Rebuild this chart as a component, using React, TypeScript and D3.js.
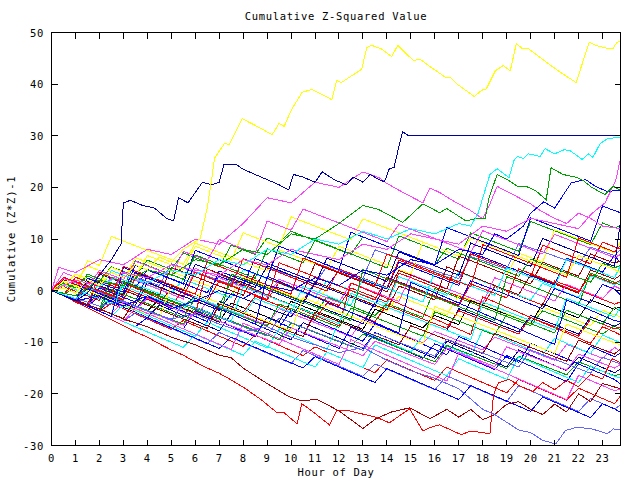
import React from "react";
import * as d3 from "d3";

const TITLE = "Cumulative Z-Squared Value";
const X_LABEL = "Hour of Day";
const Y_LABEL = "Cumulative (Z*Z)-1";
const X_TICKS = [0,1,2,3,4,5,6,7,8,9,10,11,12,13,14,15,16,17,18,19,20,21,22,23];
const Y_TICKS = [-30,-20,-10,0,10,20,30,40,50];
const X_DOMAIN = [0, 23.75];
const Y_DOMAIN = [-30, 50];

const GRID_HOURS = [0,0.5,1,1.5,2,2.5,3,3.5,4,4.5,5,5.5,6,6.5,7,7.5,8,8.5,9,9.5,10,10.5,11,11.5,12,12.5,13,13.5,14,14.5,15,15.5,16,16.5,17,17.5,18,18.5,19,19.5,20,20.5,21,21.5,22,22.5,23,23.5,23.75];

// background walks, sampled every half hour
const bg01 = [0,-0.8,-1.7,0.9,0.1,-0.8,-1.7,2.4,1.5,0.6,-0.3,-1.2,3.6,2.7,1.8,0.9,0,-0.9,-1.8,1.6,0.7,-0.2,-1.1,-2,-2.9,0.5,-0.4,-1.3,-2.2,3.4,2.5,1.6,0.7,-0.2,-1.1,-2,-2.9,0.8,-0.1,-1,-1.9,-2.8,1.9,1,0.1,-0.8,-1.7,-2.6,-2.2];
const bg02 = [0,-0.9,0.8,-0.1,-1,-1.9,1.5,0.6,-0.3,-1.2,-2.1,-3,-1.2,-2.1,-3,1.8,0.9,0,-0.9,-1.8,-2.7,-3.6,-4.5,-1.2,-2.1,-3,-3.9,-4.8,-2.5,-3.4,-4.3,-5.2,0.4,-0.5,-1.4,-2.3,-3.2,-4.1,-5,-5.9,-6.8,-3.9,-4.8,-5.7,-6.6,-7.5,-8.4,-6.8,-7.7];
const bg03 = [0,1.8,0.9,0,3.2,2.3,1.4,0.5,4.1,3.2,2.3,1.4,0.5,-0.4,2.8,1.9,1,6.2,5.3,4.4,3.5,2.6,1.7,0.8,3.9,3,2.1,1.2,0.3,5.5,4.6,3.7,2.8,1.9,1,7.4,6.5,5.6,4.7,3.8,2.9,2,1.1,6.3,5.4,4.5,3.6,6.8,5.4];
const bg04 = [0,-1,-2,-2.8,-1,-1.9,-2.8,-3.7,-1.5,-2.4,-3.3,-4.2,-5.1,-2.2,-3.1,-4,-4.9,-5.8,-6.7,-3.5,-4.4,-5.3,-6.2,-7.1,-8,-8.9,-5.6,-6.5,-7.4,-8.3,-9.2,-10.1,-7.9,-8.8,-9.7,-10.6,-11.5,-9,-9.9,-10.8,-11.7,-12.6,-13.5,-10.4,-11.3,-12.2,-13.1,-11,-11.8];
const bg05 = [0,-0.9,1.6,0.7,-0.2,3.9,3,2.1,1.2,0.3,-0.6,2.2,1.3,0.4,-0.5,-1.4,4.1,3.2,2.3,1.4,0.5,-0.4,-1.3,1.9,1,0.1,-0.8,-1.7,-2.6,2.7,1.8,0.9,0,-0.9,3.6,2.7,1.8,0.9,0,-0.9,-1.8,1.4,0.5,-0.4,-1.3,2.9,2,1.1,1.8];
const bg06 = [0,2.5,1.6,4.8,3.9,3,2.1,6.4,5.5,4.6,3.7,2.8,1.9,1,0.1,-0.8,2.6,1.7,0.8,-0.1,-1,-1.9,-2.8,0.6,-0.3,-1.2,-2.1,-3,-3.9,-1.1,-2,-2.9,-3.8,-4.7,-0.9,-1.8,-2.7,-3.6,-4.5,-5.4,-6.3,-3.2,-4.1,-5,-5.9,-6.8,-3.8,-4.7,-5.1];
const bg07 = [0,-0.9,-1.8,-2.7,-0.4,-1.3,-2.2,-3.1,-4,-1.6,-2.5,-3.4,-4.3,-5.2,-6.1,-2.4,-3.3,-4.2,-5.1,-6,-2.1,-3,-3.9,-4.8,-5.7,-6.6,-7.5,-3.6,-4.5,-5.4,-6.3,-7.2,-4.8,-5.7,-6.6,-1.9,-2.8,-3.7,-4.6,-5.5,-6.4,-2.6,-3.5,-4.4,-5.3,-1.8,-2.7,-3.6,-3.1];
const bg08 = [0,-1,-2,-3,-1.2,-2.2,-3.2,-4.2,-5.2,-2.8,-3.8,-4.8,-5.8,-6.8,-7.8,-4.5,-5.5,-6.5,-7.5,-8.5,-9.5,-6.2,-7.2,-8.2,-9.2,-10.2,-11.2,-8.1,-9.1,-10.1,-11.1,-12.1,-13.1,-9.8,-10.8,-11.8,-12.8,-13.8,-14.8,-11.5,-12.5,-13.5,-14.5,-15.5,-12.9,-13.9,-14.9,-15.9,-15.2];
const bg09 = [0,-0.8,-1.6,1.5,0.7,-0.1,3.4,2.6,1.8,1,5.2,4.4,3.6,2.8,2,1.2,6.1,5.3,4.5,3.7,2.9,2.1,1.3,4.8,4,3.2,2.4,7.9,7.1,6.3,5.5,4.7,3.9,3.1,2.3,6.6,5.8,5,4.2,9.1,8.3,7.5,6.7,5.9,5.1,8.4,7.6,6.8,7.9];
const bg10 = [0,-0.9,-1.8,-2.7,1.9,1,0.1,-0.8,-1.7,-2.6,0.6,-0.3,-1.2,-2.1,-3,-3.9,2.4,1.5,0.6,-0.3,-1.2,-2.1,1.7,0.8,-0.1,-1,-1.9,-2.8,-3.7,0.9,0,-0.9,-1.8,4.6,3.7,2.8,1.9,1,0.1,-0.8,3.1,2.2,1.3,0.4,-0.5,4,3.1,2.2,3];
const bg11 = [0,-1,-2,-3,-4,-2.5,-3.5,-4.5,-5.5,-6.5,-7.5,-5.8,-6.8,-7.8,-8.8,-9.8,-10.8,-8.6,-9.6,-10.6,-11.6,-12.6,-10.9,-11.9,-12.9,-13.9,-14.9,-15.9,-13.4,-14.4,-15.4,-16.4,-17.4,-14.8,-15.8,-16.8,-17.8,-18.8,-19.8,-17.2,-18.2,-19.2,-20.2,-21.2,-18.9,-19.9,-20.9,-21.9,-20.4];
const bg12 = [0,1.4,0.5,3.2,2.3,1.4,0.5,5.8,4.9,4,3.1,2.2,6.9,6,5.1,4.2,3.3,2.4,8.1,7.2,6.3,5.4,9.8,8.9,8,7.1,6.2,5.3,4.4,10.6,9.7,8.8,7.9,7,6.1,11.2,10.3,9.4,8.5,7.6,13.4,12.5,11.6,10.7,9.8,8.9,13.1,12.2,12.5];
const bg13 = [0,-0.9,-1.9,-2.9,-3.9,-1.4,-2.4,-3.4,-4.4,-5.4,-6.4,-7.4,-3.9,-4.9,-5.9,-6.9,-7.9,-8.9,-5.2,-6.2,-7.2,-8.2,-9.2,-10.2,-11.2,-7.1,-8.1,-9.1,-10.1,-11.1,-12.1,-13.1,-10.3,-11.3,-12.3,-13.3,-14.3,-15.3,-12.6,-13.6,-14.6,-15.6,-16.6,-17.6,-14.2,-15.2,-16.2,-17.2,-18.1];
const bg14 = [0,3.5,2.6,1.7,0.8,-0.1,2.9,2,1.1,0.2,-0.7,-1.6,4.3,3.4,2.5,1.6,0.7,-0.2,-1.1,2.2,1.3,0.4,-0.5,-1.4,-2.3,1.5,0.6,-0.3,-1.2,-2.1,3.1,2.2,1.3,0.4,-0.5,-1.4,-2.3,2.5,1.6,0.7,-0.2,-1.1,-2,1.2,0.3,-0.6,-1.5,0.9,0.3];
const bg15 = [0,-1,-2,-3,-4,-5,-2.8,-3.8,-4.8,-5.8,-6.8,-7.8,-8.8,-6.1,-7.1,-8.1,-9.1,-10.1,-11.1,-7.4,-8.4,-9.4,-10.4,-11.4,-5.9,-6.9,-7.9,-8.9,-9.9,-10.9,-11.9,-8.7,-9.7,-10.7,-11.7,-12.7,-7.5,-8.5,-9.5,-10.5,-11.5,-12.5,-9.2,-10.2,-11.2,-12.2,-8.6,-9.6,-10.1];
const bg16 = [0,1.2,0.3,5.8,4.9,10.5,9.6,8.7,7.8,6.9,6,5.1,9.2,8.3,7.4,6.5,5.6,4.7,3.8,7.9,7,6.1,5.2,4.3,8.6,7.7,6.8,5.9,5,4.1,3.2,9.4,8.5,7.6,6.7,5.8,4.9,4,3.1,7.3,6.4,5.5,11.8,10.9,10,9.1,8.2,7.3,9.5];
const bg17 = [0,-0.9,1.8,0.9,0,-0.9,-1.8,2.4,1.5,0.6,-0.3,-1.2,3.5,2.6,1.7,0.8,6.2,5.3,4.4,3.5,2.6,1.7,0.8,-0.1,4.2,3.3,2.4,1.5,0.6,5.9,5,4.1,3.2,2.3,1.4,7.1,6.2,5.3,4.4,3.5,2.6,8.8,7.9,7,6.1,5.2,9.4,8.5,8.1];
const bg18 = [0,-0.9,-1.8,0.7,-0.2,-1.1,-2,-2.9,1.6,0.7,-0.2,-1.1,-2,-2.9,-3.8,-0.6,-1.5,-2.4,-3.3,-4.2,-5.1,-1.9,-2.8,-3.7,-4.6,-5.5,-6.4,-2.3,-3.2,-4.1,-5,-5.9,-6.8,-7.7,-3.5,-4.4,-5.3,-6.2,-7.1,-8,-4.8,-5.7,-6.6,-7.5,-8.4,-5.1,-6,-6.9,-6.3];
const bg19 = [0,-1,-2,-3,-4,-5,-6,-4.3,-5.3,-6.3,-7.3,-8.3,-9.3,-10.3,-8.1,-9.1,-10.1,-11.1,-12.1,-13.1,-14.1,-11.6,-12.6,-13.6,-14.6,-15.6,-16.6,-14.2,-15.2,-16.2,-17.2,-18.2,-19.2,-16.5,-17.5,-18.5,-19.5,-20.5,-21.5,-18.4,-19.4,-20.4,-21.4,-22.4,-23.4,-20.9,-21.9,-22.9,-22.2];
const bg20 = [0,2.1,1.2,0.3,-0.6,-1.5,1.8,0.9,0,-0.9,4.5,3.6,2.7,1.8,0.9,0,-0.9,3.3,2.4,1.5,0.6,-0.3,5.2,4.3,3.4,2.5,1.6,0.7,-0.2,3.9,3,2.1,1.2,0.3,6.7,5.8,4.9,4,3.1,2.2,1.3,5.5,4.6,3.7,2.8,7.1,6.2,5.3,5.8];
const bg21 = [0,0.8,-0.1,-1,-1.9,1.4,0.5,-0.4,-1.3,-2.2,-3.1,0.3,-0.6,-1.5,-2.4,-3.3,-4.2,-1.1,-2,-2.9,-3.8,-4.7,-5.6,-2.4,-3.3,-4.2,-5.1,-6,-2.8,-3.7,-4.6,-5.5,-6.4,-7.3,-3.9,-4.8,-5.7,-6.6,-7.5,-8.4,-5.2,-6.1,-7,-7.9,-8.8,-5.6,-6.5,-7.4,-7];
const bg22 = [0,-0.9,-1.8,-2.7,-3.6,-1.1,-2,-2.9,-3.8,-4.7,-5.6,-6.5,-3.2,-4.1,-5,-5.9,-6.8,-7.7,-8.6,-9.5,-6.3,-7.2,-8.1,-9,-9.9,-10.8,-8.4,-9.3,-10.2,-11.1,-12,-12.9,-13.8,-10.6,-11.5,-12.4,-13.3,-14.2,-15.1,-12.7,-13.6,-14.5,-15.4,-16.3,-13.8,-14.7,-15.6,-16.5,-16.1];
const bg23 = [0,-0.9,-1.8,-2.7,0.5,-0.4,-1.3,-2.2,2.9,2,1.1,0.2,-0.7,-1.6,3.8,2.9,2,1.1,0.2,-0.7,-1.6,-2.5,1.4,0.5,-0.4,-1.3,-2.2,-3.1,2.6,1.7,0.8,-0.1,-1,-1.9,-2.8,1.9,1,0.1,-0.8,-1.7,-2.6,-3.5,0.4,-0.5,-1.4,-2.3,1.2,0.3,-0.8];
const bg24 = [0,-1,-2,0.4,-0.6,-1.6,-2.6,-3.6,-1,-2,-3,-4,-5,-6,-2.1,-3.1,-4.1,-5.1,-6.1,-7.1,-3.8,-4.8,-5.8,-6.8,-7.8,-8.8,-9.8,-6.4,-7.4,-8.4,-9.4,-10.4,-11.4,-12.4,-8.9,-9.9,-10.9,-11.9,-12.9,-13.9,-10.2,-11.2,-12.2,-13.2,-14.2,-10.8,-11.8,-12.8,-12.1];
const bg25 = [0,-0.9,2.6,1.7,0.8,-0.1,-1,3.3,2.4,1.5,0.6,-0.3,-1.2,-2.1,1.9,1,0.1,-0.8,-1.7,5.4,4.5,3.6,2.7,1.8,0.9,0,-0.9,-1.8,2.5,1.6,0.7,-0.2,-1.1,-2,-2.9,1.3,0.4,-0.5,-1.4,4.2,3.3,2.4,1.5,0.6,-0.3,3.1,2.2,1.3,2.1];
const bg26 = [0,-0.9,-1.8,1.9,1,0.1,-0.8,3.6,2.7,1.8,0.9,0,5.1,4.2,3.3,2.4,1.5,0.6,4.8,3.9,3,2.1,1.2,6.3,5.4,4.5,3.6,2.7,1.8,7.5,6.6,5.7,4.8,3.9,3,9.2,8.3,7.4,6.5,5.6,4.7,10.1,9.2,8.3,7.4,6.5,5.6,4.7,13.5];
const bg27 = [0,-0.9,-1.8,-2.7,-3.6,-4.5,-2.2,-3.1,-4,-4.9,-5.8,-6.7,-4.1,-5,-5.9,-6.8,-7.7,-8.6,-9.5,-10.4,-7.2,-8.1,-9,-9.9,-10.8,-11.7,-12.6,-9.8,-10.7,-11.6,-12.5,-13.4,-14.3,-11.1,-12,-12.9,-13.8,-14.7,-10.9,-11.8,-12.7,-13.6,-14.5,-15.4,-12.3,-13.2,-14.1,-15,-14.3];
const bg28 = [0,1.1,0.2,-0.7,-1.6,-2.5,0.9,0,-0.9,-1.8,-2.7,-3.6,-1.2,-2.1,-3,-3.9,-4.8,-1.5,-2.4,-3.3,-4.2,0.8,-0.1,-1,-1.9,-2.8,2.3,1.4,0.5,-0.4,-1.3,-2.2,3.6,2.7,1.8,0.9,0,-0.9,4.4,3.5,2.6,1.7,0.8,6.1,5.2,4.3,3.4,2.5,4.9];
const bg29 = [0,-0.9,-1.8,-2.7,-3.6,0.2,-0.7,-1.6,-2.5,-3.4,-4.3,-5.2,-1.5,-2.4,-3.3,-4.2,-5.1,-6,-6.9,-2.6,-3.5,-4.4,-5.3,-6.2,-7.1,-3.4,-4.3,-5.2,-6.1,-7,-7.9,-8.8,-4.1,-5,-5.9,-6.8,-7.7,-8.6,-4.6,-5.5,-6.4,-7.3,-8.2,-3.8,-4.7,-5.6,-6.5,-3.2,-4];
const bg30 = [0,-1,-2,-3,-4,-5,-6,-7,-5.2,-6.2,-7.2,-8.2,-9.2,-10.2,-11.2,-9,-10,-11,-12,-13,-14,-15,-12.8,-13.8,-14.8,-15.8,-16.8,-17.8,-15.1,-16.1,-17.1,-18.1,-19.1,-20.1,-21.1,-18.4,-19.4,-20.4,-21.4,-22.4,-23.4,-20.6,-21.6,-22.6,-23.6,-24.6,-21.9,-22.9,-23.6];
const bg31 = [0,1.5,0.6,2.8,1.9,4.6,3.7,2.8,5.9,5,4.1,7.3,6.4,5.5,4.6,8.8,7.9,7,10.2,9.3,11.5,10.6,9.7,8.8,7.9,7,10.4,9.5,8.6,7.7,6.8,5.9,5,8.2,7.3,6.4,5.5,4.6,3.7,2.8,6.1,5.2,4.3,3.4,2.5,1.6,5.3,4.4,4.9];
const bg32 = [0,0.9,3.2,2.3,1.4,4.5,3.6,2.7,6.8,5.9,5,4.1,8.6,7.7,6.8,5.9,11.2,10.3,9.4,8.5,14.3,13.4,12.5,11.6,10.7,9.8,13.9,13,12.1,11.2,10.3,9.4,8.5,7.6,6.7,10.2,9.3,8.4,7.5,6.6,5.7,4.8,3.9,3,6.8,5.9,5,4.1,3.5];
const bg33 = [0,2.4,1.5,0.6,3.9,3,2.1,5.7,4.8,3.9,3,7.6,6.7,5.8,9.9,9,8.1,7.2,13.5,12.6,11.7,15.8,14.9,14,13.1,12.2,11.3,10.4,9.5,12.8,11.9,11,10.1,9.2,8.3,7.4,11.6,10.7,9.8,8.9,8,7.1,10.9,10,9.1,8.2,7.3,6.4,7];
const bg34 = [0,-1,-2,-3,-4,-5,-6,-7,-8,-9,-10,-11,-8.5,-9.5,-10.5,-11.5,-12.5,-9.8,-10.8,-11.8,-12.8,-13.8,-14.8,-11.9,-12.9,-13.9,-14.9,-10.5,-11.5,-12.5,-13.5,-14.5,-15.5,-16.5,-13.2,-14.2,-15.2,-16.2,-17.2,-12.8,-13.8,-14.8,-15.8,-16.8,-17.8,-14.6,-15.6,-16.6,-16.9];
const bg35 = [0,-1,-2,-3,3.5,2.5,1.5,0.5,-0.5,-1.5,-2.5,-3.5,-4.5,4.2,3.2,2.2,1.2,0.2,-0.8,-1.8,-2.8,-3.8,-4.8,-5.8,-6.8,1.5,0.5,-0.5,-1.5,-2.5,-3.5,-4.5,-5.5,-6.5,-7.5,-8.5,-1.2,-2.2,-3.2,-4.2,-5.2,-6.2,-7.2,-8.2,-9.2,-10.2,-7,-8,-8.6];
const bg36 = [0,-0.9,-1.8,-2.7,-3.6,-4.5,2.1,1.2,0.3,-0.6,-1.5,-2.4,-3.3,-4.2,-5.1,-6,0.8,-0.1,-1,-1.9,-2.8,-3.7,-4.6,-5.5,-6.4,-0.5,-1.4,-2.3,-3.2,-4.1,-5,-5.9,-6.8,-7.7,-8.6,-9.5,-2.2,-3.1,-4,-4.9,-5.8,-6.7,-7.6,-1.5,-2.4,-3.3,-4.2,-5.1,-3.2];
const bg37 = [0,1.8,0.9,0,-0.9,-1.8,-2.7,-3.6,-4.5,-5.4,1.2,0.3,-0.6,-1.5,-2.4,-3.3,-4.2,-5.1,-6,-6.9,-7.8,-1.4,-2.3,-3.2,-4.1,-5,-5.9,-6.8,-7.7,-8.6,-9.5,-10.4,-3.1,-4,-4.9,-5.8,-6.7,-7.6,-8.5,-9.4,-10.3,-11.2,-12.1,-6.5,-7.4,-8.3,-9.2,-10.1,-10.5];
const bg38 = [0,-1,-2,-3,-4,-5,-6,-3.4,-4.4,-5.4,-6.4,-7.4,-8.4,-9.4,-10.4,-11.4,-6.3,-7.3,-8.3,-9.3,-10.3,-11.3,-12.3,-13.3,-14.3,-9.5,-10.5,-11.5,-12.5,-13.5,-14.5,-15.5,-16.5,-17.5,-12.1,-13.1,-14.1,-15.1,-16.1,-17.1,-18.1,-19.1,-20.1,-21.1,-16.4,-17.4,-18.4,-19.4,-19];
const bg39 = [0,-0.9,-1.8,-2.7,-3.6,2.6,1.7,0.8,-0.1,-1,-1.9,-2.8,-3.7,-4.6,-5.5,3.2,2.3,1.4,0.5,-0.4,-1.3,-2.2,-3.1,-4,-4.9,-5.8,4.1,3.2,2.3,1.4,0.5,-0.4,-1.3,-2.2,-3.1,-4,-4.9,-5.8,2.7,1.8,0.9,0,-0.9,-1.8,-2.7,3.4,2.5,1.6,1.1];
const bg40 = [0,-1,-2,-3,-4,-5,4.5,3.5,2.5,1.5,0.5,-0.5,-1.5,-2.5,-3.5,-4.5,-5.5,-6.5,2.8,1.8,0.8,-0.2,-1.2,-2.2,-3.2,-4.2,-5.2,-6.2,-7.2,-8.2,1.6,0.6,-0.4,-1.4,-2.4,-3.4,-4.4,-5.4,-6.4,-7.4,-8.4,-9.4,-10.4,-1.8,-2.8,-3.8,-4.8,-5.8,-6];
const bg41 = [0,-0.9,-1.8,-2.7,-3.6,-4.5,-5.4,-1.9,-2.8,-3.7,-4.6,-5.5,-6.4,-7.3,-2.6,-3.5,-4.4,-5.3,-6.2,-7.1,-8,-8.9,-4.2,-5.1,-6,-6.9,-7.8,-8.7,-9.6,-10.5,-6.8,-7.7,-8.6,-9.5,-10.4,-11.3,-12.2,-8.3,-9.2,-10.1,-11,-11.9,-12.8,-13.7,-9.6,-10.5,-11.4,-12.3,-11.2];
const bg42 = [0,-0.9,-1.8,0.6,-0.3,-1.2,-2.1,-3,-3.9,-4.8,-5.7,-2.5,-3.4,-4.3,-5.2,-6.1,-7,-7.9,-8.8,-5.3,-6.2,-7.1,-8,-8.9,-9.8,-10.7,-11.6,-8.2,-9.1,-10,-10.9,-11.8,-12.7,-9.4,-10.3,-11.2,-12.1,-13,-13.9,-14.8,-11.5,-12.4,-13.3,-14.2,-15.1,-16,-12.9,-13.8,-14.2];
const bg43 = [0,2.6,1.7,0.8,-0.1,-1,4.7,3.8,2.9,2,1.1,0.2,-0.7,5.6,4.7,3.8,2.9,2,1.1,0.2,-0.7,6.3,5.4,4.5,3.6,2.7,1.8,0.9,7.1,6.2,5.3,4.4,3.5,2.6,1.7,0.8,8.9,8,7.1,6.2,5.3,4.4,3.5,2.6,10.2,9.3,8.4,7.5,8.8];
const bg44 = [0,-0.9,-1.8,2.4,1.5,0.6,-0.3,4.9,4,3.1,2.2,1.3,7.8,6.9,6,5.1,4.2,3.3,2.4,8.6,7.7,6.8,5.9,5,4.1,11.3,10.4,9.5,8.6,7.7,6.8,5.9,5,12.2,11.3,10.4,9.5,8.6,7.7,6.8,14.1,13.2,12.3,11.4,10.5,9.6,16.4,15.5,15.1];

// traced walks as [hour, value]
const yellowTop = [[0,0],[0.5,0.5],[1,-0.5],[1.5,2],[2,1],[2.5,3.5],[3,2.5],[3.5,5],[4,4],[4.5,6.5],[5,5.5],[5.5,8],[6,9.5],[6.2,10],[6.5,16],[6.7,22],[6.8,25.6],[7.22,28.5],[7.42,28.3],[7.96,33.3],[8.67,31.6],[9.21,30.2],[9.5,32.4],[9.71,31.8],[10,34.9],[10.46,38.4],[10.87,39],[11.7,37],[11.9,40.7],[12.1,40.3],[12.95,42.9],[13.16,47.1],[13.37,47.5],[13.74,46.9],[14.2,45.3],[14.45,47.5],[15.1,44.6],[15.4,44.8],[15.86,43.2],[16.45,41.3],[16.65,41.3],[16.9,40.1],[17.65,37.6],[17.95,38.8],[18.15,39.1],[18.53,42.6],[18.86,43.6],[19.15,42.6],[19.4,47.8],[19.65,46.9],[19.9,46.9],[20.73,44],[21.27,42.2],[21.9,40.3],[22.44,48.1],[22.73,47.5],[23.23,46.9],[23.44,46.9],[23.6,48.1],[23.75,48.3]];
const navyHigh = [[0,0],[0.5,-1],[1,-2],[1.5,-0.5],[2,3],[2.5,6],[2.9,9],[3.0,17],[3.3,17.5],[3.8,16.5],[4.3,16],[4.8,14],[5.1,13.5],[5.3,18],[5.7,17],[6,19],[6.3,21],[6.7,20.5],[7,21],[7.2,24.5],[7.7,24.5],[8,23.5],[8.5,22.5],[9,21.5],[9.5,20.5],[9.9,19.5],[10.1,22.5],[10.5,22],[11,21],[11.3,23],[11.8,21.5],[12.3,20.5],[12.6,22],[13,21],[13.3,22.5],[13.66,21.5],[13.9,21.1],[14.1,23.6],[14.3,23.9],[14.45,26.9],[14.65,30.8],[14.9,30],[23.75,30]];
const cyanHigh = [[0,0],[1,-1.5],[2,1],[3,3],[4,1.5],[5,4],[6,3],[7,6],[8,5],[9,8],[10,7],[11,10],[12,9],[13,11.5],[14,10],[15,12],[16,11],[17,13],[17.5,12.5],[17.8,14.9],[18.3,22.5],[18.6,23.6],[19.1,21.9],[19.3,25.2],[19.45,26],[19.7,25.6],[19.9,26.5],[20.4,26],[20.6,27.5],[21,26.5],[21.4,27.3],[21.65,27.1],[22.15,25.4],[22.4,26.5],[22.6,25.8],[22.9,28.5],[23.2,29.4],[23.5,29.6],[23.75,29.6]];
const greenHigh = [[0,0],[1,-1],[2,2],[3,1],[4,4],[5,3],[6,6],[7,5],[8,8],[9,7],[10,11],[11,10],[12,13],[13,16.5],[13.66,15.7],[14.66,13.2],[15.5,16.8],[15.75,16.2],[16.2,15.1],[16.5,15.9],[17.3,13.5],[17.75,14],[18.1,14],[18.25,17.8],[18.6,22.5],[19.1,21.3],[19.45,20.2],[19.8,20.2],[20.2,19.4],[20.65,17.6],[20.85,23.8],[21.35,22.5],[21.95,21.9],[22.2,21.3],[22.55,20],[23.1,18.6],[23.45,20.2],[23.75,19.4]];
const magentaEnd = [[0,0],[1,2],[2,1],[3,3.5],[4,2.5],[5,5],[6,4],[7,3],[8,6],[9,5],[10,8],[11,7],[12,6],[13,9],[14,8],[15,11],[16,10],[17,9],[18,12.5],[19,11.5],[20,14],[21,13],[22,12],[22.55,14.9],[23.1,17],[23.55,21.3],[23.75,25.6]];
const magentaMid = [[0,0],[0.3,4.5],[1,3.5],[2,6],[3,5],[4,8],[5,7],[6,10],[7,9],[8,13],[9,18],[10,17],[11,21],[12,20],[13,23],[13.66,21.9],[13.95,20.9],[14.6,19.2],[15.5,17],[15.8,19.9],[16.2,19],[16.8,17.3],[17.5,15.5],[18,13.9],[18.3,16.8],[18.6,20.2],[19.1,19],[20,16.8],[20.4,15.5],[21,14],[21.5,13],[22,15],[22.5,14],[23,12.5],[23.75,12]];
const blueEnd = [[0,0],[1,-2],[2,-1],[3,-3],[4,-1],[5,-3.5],[6,-2],[7,0],[8,-1.5],[9,1],[10,0],[11,2.5],[12,1],[13,4],[14,3],[15,6],[16,5],[17,8],[18,7],[18.5,11],[19,10],[19.7,12.5],[20,15],[20.55,17.2],[21,16],[21.7,20.9],[22.3,21.5],[22.7,20.2],[23.2,19.2],[23.75,19.5]];
const redLow = [[0,0],[0.5,-1],[1,-2.2],[1.5,-3.3],[2,-4.5],[2.5,-5.6],[3,-6.8],[3.5,-8],[4,-9],[4.5,-10.3],[5,-11.5],[5.5,-12.5],[6,-13.8],[6.5,-15],[7,-16],[7.42,-17.1],[8.1,-19],[8.8,-21.3],[9.4,-23.6],[9.7,-23.6],[10.25,-25.8],[10.45,-21.9],[10.95,-23.6],[11.6,-26],[11.9,-23.3],[12.45,-23.3],[13.6,-24.6],[14.1,-25.6],[14.95,-22.9],[15.5,-27.2],[15.8,-26.5],[16.2,-26],[17.1,-27.9],[17.5,-27.2],[18.3,-27.7],[18.45,-20.2],[18.65,-17.9],[19.1,-17.2],[19.6,-18.6],[20.1,-19.5],[20.5,-17.8],[21,-19.2],[21.5,-17.4],[22,-18.6],[22.5,-16.2],[23,-17.1],[23.4,-13.2],[23.75,-14]];
const darkRedLow = [[0,0],[1,-2],[2,-3.5],[3,-5.5],[4,-7],[5,-9],[6,-10.5],[7,-12.5],[7.5,-13],[8,-15],[8.5,-16.5],[9,-18],[9.9,-20.5],[10.4,-21.3],[11.1,-21.1],[12,-23.3],[13,-26.7],[13.55,-24.8],[14.2,-23.5],[14.95,-22.7],[15.8,-24.8],[16.5,-23],[17,-24.5],[17.5,-23],[18,-25],[18.5,-24],[19,-22],[19.5,-21.5],[20,-23],[20.5,-24],[21,-22],[21.5,-23.5],[22,-20],[22.5,-21.5],[23,-18],[23.75,-19]];
const slateLow = [[0,0],[1,-1.5],[2,-3],[3,-2],[4,-4],[5,-5.5],[6,-4.5],[7,-6.5],[8,-8],[9,-7],[10,-9],[11,-10.5],[12,-12],[13,-11],[14,-13.5],[15,-15.5],[16,-17],[17,-19],[17.5,-21],[18,-23],[18.5,-24],[19,-25.5],[19.5,-27],[20,-27.5],[20.5,-29],[21.05,-29.7],[21.45,-27.1],[21.9,-26.5],[22.5,-26.7],[23.2,-27.7],[23.45,-26.8],[23.75,-26.9]];

const PALETTE: Record<string, string> = {
  red: "#ff0000", green: "#00a000", blue: "#0000ff", magenta: "#ff40ff", cyan: "#00ffff",
  yellow: "#ffff00", black: "#000000", navy: "#0000a0", slate: "#6464ff", darkred: "#a00000",
};

const GRID_SERIES: [string, number[]][] = [
  ["red", bg01], ["green", bg02], ["blue", bg03], ["magenta", bg04], ["cyan", bg05],
  ["yellow", bg06], ["black", bg07], ["navy", bg08], ["slate", bg09], ["darkred", bg10],
  ["red", bg11], ["green", bg12], ["blue", bg13], ["magenta", bg14], ["cyan", bg15],
  ["yellow", bg16], ["red", bg17], ["navy", bg18], ["slate", bg19], ["darkred", bg20],
  ["red", bg21], ["green", bg22], ["blue", bg23], ["blue", bg24], ["red", bg25],
  ["navy", bg26], ["magenta", bg27], ["cyan", bg28], ["green", bg29], ["blue", bg30],
  ["green", bg31], ["yellow", bg32], ["magenta", bg33], ["cyan", bg34], ["red", bg35],
  ["cyan", bg36], ["yellow", bg37], ["magenta", bg38], ["green", bg39], ["blue", bg40],
  ["darkred", bg41], ["slate", bg42], ["red", bg43], ["blue", bg44],
];

const TRACED_SERIES: [string, number[][]][] = [
  ["red", redLow], ["darkred", darkRedLow], ["slate", slateLow],
  ["magenta", magentaMid], ["blue", blueEnd], ["magenta", magentaEnd],
  ["green", greenHigh], ["cyan", cyanHigh], ["navy", navyHigh], ["yellow", yellowTop],
];

const W = 640, H = 480;
const FONT = "'DejaVu Sans Mono', 'Liberation Mono', monospace";

export default function App() {
  const x = d3.scaleLinear().domain(X_DOMAIN).range([51.5, 620.5]);
  const y = d3.scaleLinear().domain(Y_DOMAIN).range([445.5, 32.5]);
  const line = d3.line<number[]>().x((d) => x(d[0])).y((d) => y(d[1]));
  const [x0, x1] = x.range();
  const [y0, y1] = y.range();
  const tickLen = 6;
  const textStyle = { fontFamily: FONT, fontSize: 10.5, letterSpacing: 0.7 } as const;

  return (
    <svg width={W} height={H} style={{ position: "absolute", left: 0, top: 0, background: "#fff" }}>
      <defs>
        <clipPath id="plot">
          <rect x={x0} y={y1} width={x1 - x0} height={y0 - y1} />
        </clipPath>
      </defs>
      <rect x={0} y={0} width={W} height={H} fill="#fff" />
      <g clipPath="url(#plot)" fill="none" strokeWidth={1} shapeRendering="crispEdges">
        {GRID_SERIES.map(([c, vals], i) => (
          <path key={"g" + i} stroke={PALETTE[c]}
            d={line(vals.map((v, j) => [GRID_HOURS[j], v]).filter((p) => p[0] !== undefined)) || ""} />
        ))}
        {TRACED_SERIES.map(([c, pts], i) => (
          <path key={"t" + i} stroke={PALETTE[c]} d={line(pts) || ""} />
        ))}
      </g>
      <g stroke="#000" strokeWidth={1} shapeRendering="crispEdges" fill="none">
        <rect x={x0} y={y1} width={x1 - x0} height={y0 - y1} />
        {X_TICKS.map((t) => (
          <g key={"xt" + t}>
            <line x1={x(t)} x2={x(t)} y1={y0} y2={y0 - tickLen} />
            <line x1={x(t)} x2={x(t)} y1={y1} y2={y1 + tickLen} />
          </g>
        ))}
        {Y_TICKS.map((t) => (
          <g key={"yt" + t}>
            <line x1={x0} x2={x0 + tickLen} y1={y(t)} y2={y(t)} />
            <line x1={x1} x2={x1 - tickLen} y1={y(t)} y2={y(t)} />
          </g>
        ))}
      </g>
      <g fill="#000" style={textStyle}>
        {X_TICKS.map((t) => (
          <text key={"xl" + t} x={x(t)} y={462} textAnchor="middle">{t}</text>
        ))}
        {Y_TICKS.map((t) => (
          <text key={"yl" + t} x={44} y={y(t) + 4} textAnchor="end">{t}</text>
        ))}
        <text x={(x0 + x1) / 2} y={19.5} textAnchor="middle">{TITLE}</text>
        <text x={(x0 + x1) / 2} y={476} textAnchor="middle">{X_LABEL}</text>
        <text transform={`translate(15, ${(y0 + y1) / 2}) rotate(-90)`} textAnchor="middle">{Y_LABEL}</text>
      </g>
    </svg>
  );
}
